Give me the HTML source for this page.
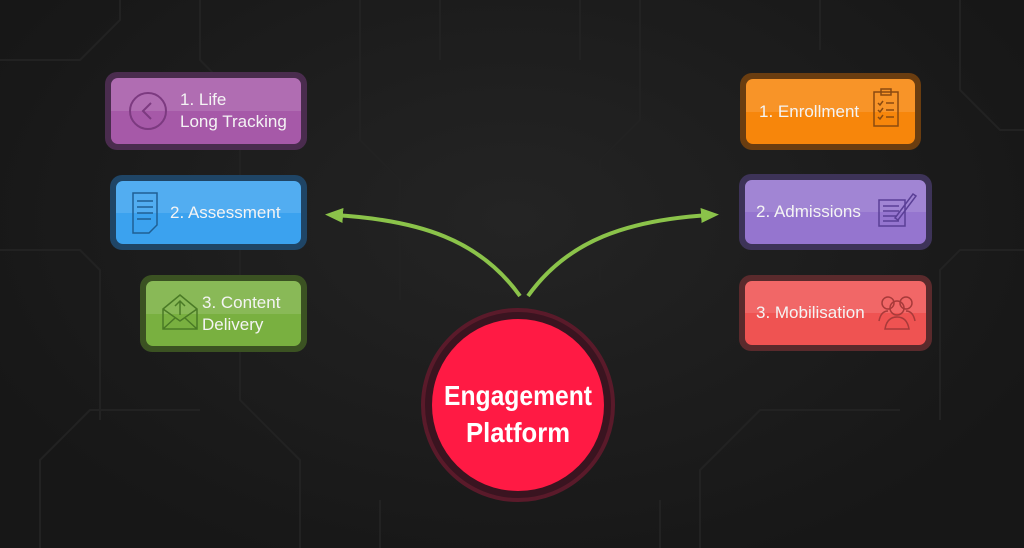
<!DOCTYPE html>
<html><head><style>
body{margin:0;width:1024px;height:548px;overflow:hidden;background:radial-gradient(ellipse at 50% 40%,#242424,#171717 80%);font-family:"Liberation Sans",sans-serif;position:relative}
.o{position:absolute;border-radius:12px}
.b{position:absolute;left:6px;top:6px;right:6px;bottom:6px;border-radius:7px;color:#f4f4f4;font-size:17px;line-height:22px;display:flex;align-items:center;overflow:hidden}
.b:before{content:"";position:absolute;left:0;right:0;top:0;height:50%;background:rgba(255,255,255,.12)}
.t{position:relative}
svg.i{position:absolute}
</style></head><body>
<svg width="1024" height="548" style="position:absolute;left:0;top:0">
<g stroke="#222" stroke-width="2" fill="none">
<path d="M0 60 H80 L120 20 V0 M40 548 V460 L90 410 H200 M200 0 V60 L240 100 V400 L300 460 V548 M360 0 V140 L400 180 V300 M640 0 V120 L600 160 V280 M700 548 V470 L760 410 H900 M960 0 V90 L1000 130 H1024 M820 0 V50 M0 250 H80 L100 270 V420 M1024 250 H960 L940 270 V420 M440 0 V60 M580 0 V60 M380 548 V500 M660 548 V500"/>
</g>
<defs><marker id="a" viewBox="0 0 12 10" refX="6" refY="5" markerWidth="4.5" markerHeight="4" orient="auto-start-reverse"><path d="M0 0 L12 5 L0 10z" fill="#8bc34a"/></marker></defs>
<path d="M520 296 C480 240 420 220 334 215" stroke="#8bc34a" stroke-width="4" fill="none" marker-end="url(#a)"/>
<path d="M528 296 C568 240 628 220 710 215" stroke="#8bc34a" stroke-width="4" fill="none" marker-end="url(#a)"/>
<circle cx="518" cy="405" r="95" fill="#3a1420" stroke="#5a1a2a" stroke-width="4"/>
<circle cx="518" cy="405" r="86" fill="#ff1a44"/>
<text x="518" y="405" fill="#fff" font-size="28" font-weight="bold" text-anchor="middle" textLength="148" lengthAdjust="spacingAndGlyphs">Engagement</text>
<text x="518" y="442" fill="#fff" font-size="28" font-weight="bold" text-anchor="middle" textLength="104" lengthAdjust="spacingAndGlyphs">Platform</text>
</svg>

<div class="o" style="left:105px;top:72px;width:202px;height:78px;background:#4a2c4e"><div class="b" style="background:#a659a8">
<svg class="i" style="left:16px;top:12px" width="42" height="42"><circle cx="21" cy="21" r="18" fill="none" stroke="#7c3a80" stroke-width="2"/><path d="M24 13 L16 21 L24 29" fill="none" stroke="#7c3a80" stroke-width="2"/></svg>
<span class="t" style="left:69px">1. Life<br>Long Tracking</span></div></div>

<div class="o" style="left:110px;top:175px;width:197px;height:75px;background:#1f4566"><div class="b" style="background:#3ba2ef">
<svg class="i" style="left:15px;top:10px" width="30" height="44"><path d="M2 2 H26 V34 L18 42 H2Z" fill="none" stroke="#1f5f94" stroke-width="1.5"/><path d="M6 10 H22 M6 16 H22 M6 22 H22 M6 28 H20" stroke="#1f5f94" stroke-width="1.5"/></svg>
<span class="t" style="left:54px">2. Assessment</span></div></div>

<div class="o" style="left:140px;top:275px;width:167px;height:77px;background:#3b5222"><div class="b" style="background:#79b040">
<svg class="i" style="left:15px;top:10px" width="38" height="42"><path d="M2 18 L19 4 L36 18 V38 H2Z M2 18 L19 30 L36 18 M2 38 L14 27 M36 38 L24 27 M19 24 V10 M14 15 L19 10 L24 15" fill="none" stroke="#4a7a26" stroke-width="1.5"/></svg>
<span class="t" style="left:56px">3. Content<br>Delivery</span></div></div>

<div class="o" style="left:740px;top:73px;width:181px;height:77px;background:#6a3d10"><div class="b" style="background:#f7860b">
<span class="t" style="left:13px">1. Enrollment</span>
<svg class="i" style="left:125px;top:8px" width="30" height="42"><rect x="3" y="5" width="24" height="34" fill="none" stroke="#8a4a10" stroke-width="1.5"/><rect x="10" y="2" width="10" height="6" fill="none" stroke="#8a4a10" stroke-width="1.5"/><path d="M7 16 L9 18 L12 14 M15 16 H23 M7 23 L9 25 L12 21 M15 23 H23 M7 30 L9 32 L12 28 M15 30 H23" fill="none" stroke="#8a4a10" stroke-width="1.5"/></svg></div></div>

<div class="o" style="left:739px;top:174px;width:193px;height:76px;background:#3d3358"><div class="b" style="background:#9575cf">
<span class="t" style="left:11px">2. Admissions</span>
<svg class="i" style="left:132px;top:10px" width="40" height="40"><rect x="2" y="10" width="26" height="26" fill="none" stroke="#5a3f96" stroke-width="1.5"/><path d="M6 16 H22 M6 21 H22 M6 26 H20 M6 31 H22 M18 28 L36 4 L39 6 L21 30Z" fill="none" stroke="#5a3f96" stroke-width="1.5"/></svg></div></div>

<div class="o" style="left:739px;top:275px;width:193px;height:76px;background:#5a2a2c"><div class="b" style="background:#ef5352">
<span class="t" style="left:11px">3. Mobilisation</span>
<svg class="i" style="left:132px;top:12px" width="40" height="40"><g fill="none" stroke="#a83a3a" stroke-width="1.5"><circle cx="11" cy="10" r="6"/><circle cx="29" cy="10" r="6"/><circle cx="20" cy="15" r="7"/><path d="M2 28 Q4 18 11 18 M38 28 Q36 18 29 18 M8 36 Q10 24 20 24 Q30 24 32 36Z"/></g></svg></div></div>
</body></html>
